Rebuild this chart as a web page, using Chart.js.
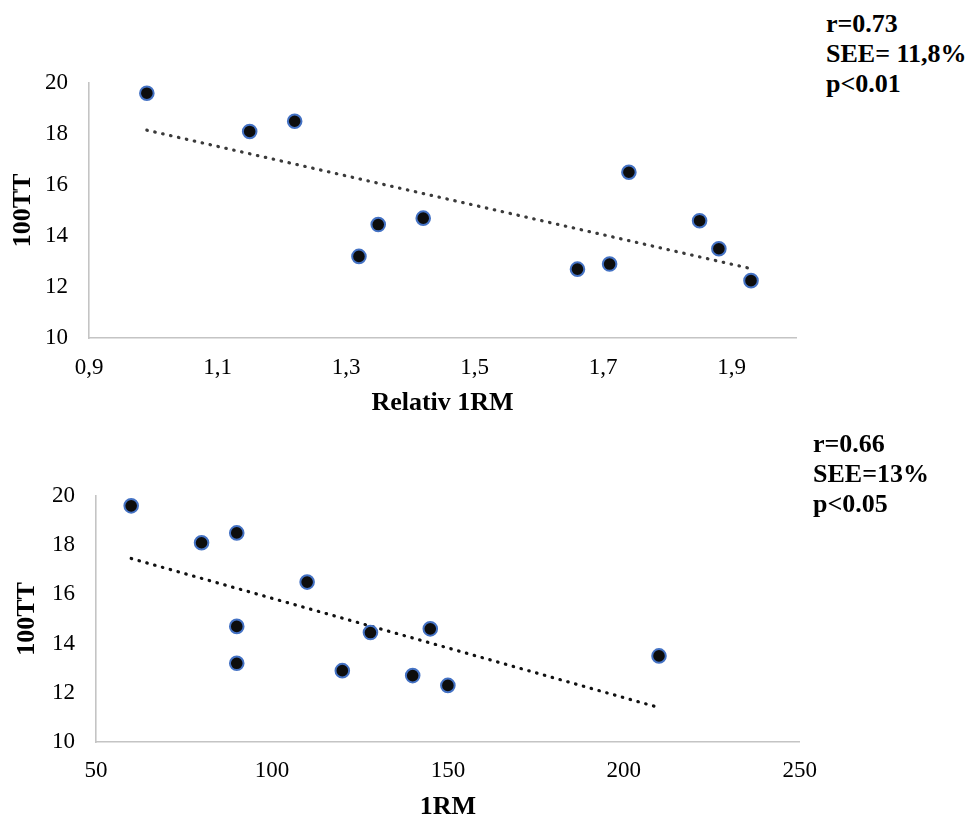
<!DOCTYPE html>
<html>
<head>
<meta charset="utf-8">
<script src="https://cdn.jsdelivr.net/npm/chart.js@4"></script>
<style>
  html, body { margin: 0; padding: 0; background: #fff; overflow: hidden; }
  body { width: 973px; height: 817px; position: relative; }
  canvas { position: absolute; left: 0; }
  #c1 { top: 0; }
  #c2 { top: 420px; }
  .stats {
    position: absolute;
    font-family: "Liberation Serif", "Times New Roman", serif;
    font-weight: bold;
    font-size: 26px;
    line-height: 30px;
    color: #000;
    white-space: nowrap;
  }
</style>
</head>
<body>
<canvas id="c1" width="820" height="430"></canvas>
<canvas id="c2" width="832" height="410"></canvas>
<div class="stats" style="left:826px; top:9px;">r=0.73<br>SEE= 11,8%<br>p&lt;0.01</div>
<div class="stats" style="left:813px; top:429px;">r=0.66<br>SEE=13%<br>p&lt;0.05</div>
<script>
/* global Chart */

// 100TT values (same athletes in both plots)
var relative1RM = [0.99, 1.15, 1.22, 1.32, 1.35, 1.42, 1.74, 1.66, 1.71, 1.85, 1.88, 1.93];
var tt100a      = [19.6, 18.1, 18.5, 13.2, 14.45, 14.7, 16.5, 12.7, 12.9, 14.6, 13.5, 12.25];

var oneRM  = [60, 80, 90, 110, 90, 90, 120, 128, 145, 140, 150, 210];
var tt100b = [19.6, 18.1, 18.5, 16.5, 14.7, 13.2, 12.9, 14.45, 14.6, 12.7, 12.3, 13.5];

// trendline end points
var trendX1 = [0.99, 1.93];
var trendY1 = [18.15, 12.72];
var trendX2 = [60, 210];
var trendY2 = [17.46, 11.4];

var xTicks1 = [0.9, 1.1, 1.3, 1.5, 1.7, 1.9];

var serif = '"Liberation Serif", "Times New Roman", serif';

function pairs(xs, ys) {
  return xs.map(function(x, i) { return {x: x, y: ys[i]}; });
}

function buildChart(id, opts) {
  var ctx = document.getElementById(id).getContext('2d');
  return new Chart(ctx, {
    type: 'scatter',
    data: {
      datasets: [{
        data: opts.points,
        pointRadius: 6.8,
        pointHoverRadius: 6.8,
        pointBorderWidth: 2,
        pointBorderColor: '#4472C4',
        pointBackgroundColor: '#0d0d0d'
      }, {
        data: opts.trend,
        showLine: true,
        pointRadius: 0,
        borderColor: opts.trendColor,
        borderWidth: 3.2,
        borderDash: [0.5, 7.6],
        borderCapStyle: 'round',
        fill: false
      }]
    },
    options: {
      responsive: false,
      animation: false,
      events: [],
      layout: { padding: opts.padding },
      plugins: { legend: { display: false }, tooltip: { enabled: false } },
      scales: {
        x: {
          type: 'linear',
          min: opts.xMin,
          max: opts.xMax,
          grid: { display: false, drawTicks: false },
          border: { display: true, color: '#c4c4c4', width: 1.6 },
          afterBuildTicks: opts.xTickBuilder,
          afterFit: function(scale) { scale.height = opts.xHeight; },
          ticks: {
            stepSize: opts.xStep,
            padding: opts.xTickPad,
            color: '#000',
            font: { family: serif, size: 23 },
            maxRotation: 0,
            callback: opts.xFormat
          },
          title: {
            display: true,
            text: opts.xTitle,
            color: '#000',
            font: { family: serif, size: 26, weight: 'bold' },
            padding: { top: 0, bottom: opts.xTitlePad }
          }
        },
        y: {
          min: 10,
          max: 20,
          grid: { display: false, drawTicks: false },
          border: { display: true, color: '#c4c4c4', width: 1.6 },
          afterFit: function(scale) { scale.width = opts.yWidth; },
          ticks: {
            stepSize: 2,
            padding: 21,
            color: '#000',
            font: { family: serif, size: 23 }
          },
          title: {
            display: true,
            text: '100TT',
            color: '#000',
            font: { family: serif, size: 26, weight: 'bold' },
            padding: { top: opts.yTitlePad, bottom: 0 }
          }
        }
      }
    }
  });
}

buildChart('c1', {
  points: pairs(relative1RM, tt100a),
  trend: pairs(trendX1, trendY1),
  trendColor: '#3a3a3a',
  padding: { left: 0, right: 24, top: 83, bottom: 0 },
  xMin: 0.9,
  xMax: 2.0,
  xStep: 0.2,
  xTickBuilder: function(scale) {
    scale.ticks = xTicks1.map(function(v) { return {value: v}; });
  },
  xFormat: function(v) { return v.toFixed(1).replace('.', ','); },
  xHeight: 92,
  xTickPad: 16,
  xTitle: 'Relativ 1RM',
  xTitlePad: 11,
  yWidth: 89,
  yTitlePad: 8
});

buildChart('c2', {
  points: pairs(oneRM, tt100b),
  trend: pairs(trendX2, trendY2),
  trendColor: '#111111',
  padding: { left: 0, right: 22, top: 76, bottom: 0 },
  xMin: 50,
  xMax: 250,
  xStep: 50,
  xTickBuilder: undefined,
  xFormat: function(v) { return v; },
  xHeight: 88,
  xTickPad: 15,
  xTitle: '1RM',
  xTitlePad: 7,
  yWidth: 96,
  yTitlePad: 12
});
</script>
</body>
</html>
